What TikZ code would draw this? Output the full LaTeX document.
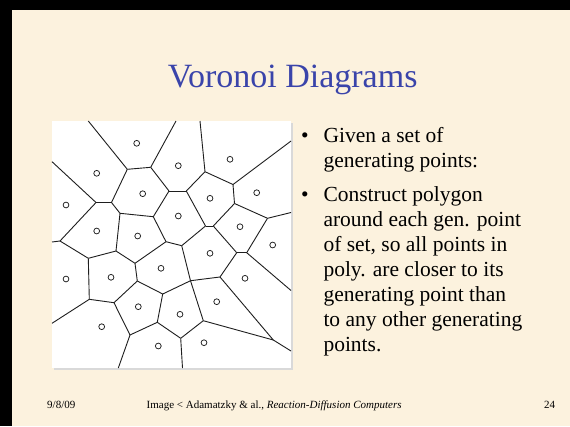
\documentclass[tikz,border=0pt]{standalone}
\usepackage{fontspec}
\setmainfont{Liberation Serif}
\definecolor{parchment}{RGB}{252,242,222}
\definecolor{titleblue}{RGB}{58,68,170}
\definecolor{cellline}{RGB}{30,30,30}
\begin{document}
\begin{tikzpicture}[x=1pt,y=-1pt,every node/.style={inner sep=0pt},
  edge/.style={cellline,line width=0.9pt},
  site/.style={circle,draw=cellline,line width=0.75pt,minimum size=5.8pt,fill=white},
  body/.style={font=\fontsize{21.5}{25}\selectfont,anchor=base west},
  foot/.style={font=\fontsize{11}{13}\selectfont,anchor=base west}]
\useasboundingbox (0,0) rectangle (570,426);
% slide frame
\fill[black] (0,0) rectangle (570,426);
\fill[parchment] (12,10) rectangle (570,426);
\node[font=\fontsize{34}{40}\selectfont,text=titleblue,anchor=base] (title) at (292.7,87.3) {Voronoi Diagrams};
% picture of the cells
\fill[black!15] (54,123) rectangle (293,370);
\fill[white] (52,121) rectangle (291,368);
\foreach \n/\x/\y in {a/127.3/169.3, b/150.7/167.3, c/205/171.7, d/169/191, e/186.3/191,
  f/233/184.5, g/96/202.5, h/111.5/202.5, i/120/213.3, j/60/241, k/153.3/216.7,
  l/116/251, m/88.3/258.3, n/135/263.3, o/166/241.7, p/205.5/226, q/213.3/226,
  r/234.5/203.5, s/267.5/218.3, t/246.7/252.7, u/236.7/252.7, v/181.7/245.7,
  w/220/277, x/190.5/280.7, y/273.3/340, z/203.3/320.7, zz/180.7/338.3,
  aa/157.3/322.3, bb/162.7/294, cc/130/335, dd/114/302.7, nn/137.3/281, mm/89.3/299.3,
  t1/88.3/121, t2/176/121, t3/200/121, r1/291/141, r2/291/212.5, r3/291/290.5,
  r4/291/351, b1/182.5/368, b2/118.3/368, l1/52/161.7, l2/52/242, l3/52/323.3}
  \coordinate (\n) at (\x,\y);
\foreach \u/\v in {t1/a, a/b, b/t2, t3/c, a/h, b/d, c/e, c/f, d/e, f/r1, l1/g, g/h,
  h/i, g/j, j/l2, j/m, i/k, d/k, i/l, l/m, l/n, k/o, o/n, o/v, e/p, p/q, f/r, q/r,
  r/s, s/r2, s/t, t/u, q/u, t/r3, v/p, u/w, v/x, w/x, w/y, x/z, y/z, y/r4, z/zz,
  zz/b1, zz/aa, aa/bb, bb/x, aa/cc, bb/nn, n/nn, nn/dd, dd/cc, cc/b2, dd/mm, m/mm, mm/l3}
  \draw[edge] (\u) -- (\v);
\foreach \x/\y [count=\i] in {136.7/143.3, 178.3/165.7, 230/159.3, 96.7/173.3,
  142.7/193.7, 210/198.3, 256.7/192.7, 66/205, 178.3/216, 240/226.7, 96.7/231,
  137.7/236, 272.7/245, 210/253.3, 161/268.3, 66/279, 111/277.3, 245/278.3,
  138.3/306.7, 180/314.3, 216.7/301.7, 101.7/326.7, 158.3/346, 204/342.7}
  \node[site] (s\i) at (\x,\y) {};
% bullets
\node[body] (dot1) at (301,142.7) {\textbullet};
\node[body] (given) at (323.3,142.7) {Given a set of};
\node[body] (given2) at (323.3,167.7) {generating points:};
\node[body] (dot2) at (301,201.7) {\textbullet};
\node[body] (cons1) at (323.3,201.7) {Construct polygon};
\node[body] (cons2) at (323.3,226.7) {around each gen. point};
\node[body] (cons3) at (323.3,251.7) {of set, so all points in};
\node[body] (cons4) at (323.3,276.7) {poly. are closer to its};
\node[body] (cons5) at (323.3,301.7) {generating point than};
\node[body] (cons6) at (323.3,326.7) {to any other generating};
\node[body] (cons7) at (323.3,351.7) {points.};
% footer
\node[foot] (date) at (47,408) {9/8/09};
\node[foot] (credit) at (146.5,408) {Image < Adamatzky \& al., \textit{Reaction-Diffusion Computers}};
\node[foot] (page) at (544,408) {24};
\end{tikzpicture}
\end{document}
